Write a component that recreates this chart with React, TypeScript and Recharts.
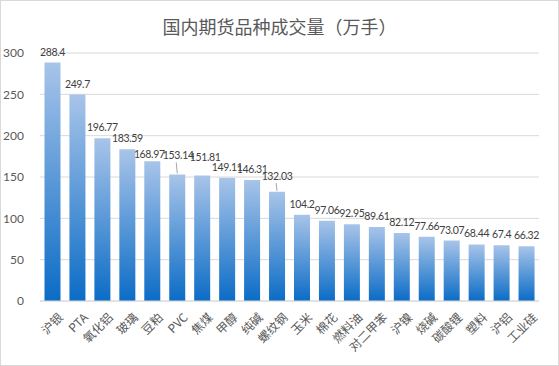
import { BarChart, Bar, XAxis, YAxis, CartesianGrid, LabelList } from 'recharts'

const categories = ['沪银', 'PTA', '氧化铝', '玻璃', '豆粕', 'PVC', '焦煤', '甲醇', '纯碱', '螺纹钢', '玉米', '棉花', '燃料油', '对二甲苯', '沪镍', '烧碱', '碳酸锂', '塑料', '沪铝', '工业硅']
const volumes = [288.4, 249.7, 196.77, 183.59, 168.97, 153.14, 151.81, 149.11, 146.31, 132.03, 104.2, 97.06, 92.95, 89.61, 82.12, 77.66, 73.07, 68.44, 67.4, 66.32]
const yTicks = [0, 50, 100, 150, 200, 250, 300]

const FONT = '"Noto Sans CJK SC", "Noto Sans", sans-serif'
const NUM_FONT = 'Lato, "Noto Sans", sans-serif'

// small nudges Excel made to avoid label collisions (dx, extra lift, leader line)
const nudges: Record<number, { dx: number; lift: number; leader?: boolean }> = {
  4: { dx: -3, lift: -4 },
  5: { dx: 1, lift: 8, leader: true },
  6: { dx: 3, lift: 8 },
  9: { dx: 0, lift: 5, leader: true },
}

const data = categories.map((name, i) => ({ name, value: volumes[i] }))

const XTick = (props: any) => {
  const { x, y, payload } = props
  return (
    <g transform={`translate(${x + 5},${y + 3})`}>
      <text transform="rotate(-45)" textAnchor="end" dy={9} fontSize={12} fill="#595959" fontFamily={FONT}>
        {payload.value}
      </text>
    </g>
  )
}

const ValueLabel = (props: any) => {
  const { x, y, width, value, index } = props
  const n = nudges[index] || { dx: 0, lift: 0 }
  const cx = x + width / 2
  const base = y - 7 - n.lift
  return (
    <g>
      {n.leader && <line x1={cx} y1={y - 1} x2={cx - 1} y2={base + 3} stroke="#a6a6a6" strokeWidth={1} />}
      <text
        x={cx + n.dx}
        y={base}
        textAnchor="middle"
        fontSize={10.5}
        letterSpacing={-0.35}
        fill="#404040"
        fontFamily={NUM_FONT}
      >
        {value}
      </text>
    </g>
  )
}

export default function App() {
  return (
    <div
      style={{
        position: 'absolute',
        left: 0,
        top: 0,
        width: 559,
        height: 366,
        boxSizing: 'border-box',
        border: '1px solid #d9d9d9',
        background: '#fff',
        fontFamily: FONT,
      }}
    >
      <div style={{ position: 'absolute', top: 12, width: '100%', textAlign: 'center', fontSize: 18, color: '#595959' }}>
        国内期货品种成交量（万手）
      </div>
      <BarChart
        width={557}
        height={364}
        data={data}
        margin={{ top: 52, right: 19, bottom: 0, left: 0 }}
        barCategoryGap="18%"
        style={{ position: 'absolute', left: 0, top: 0 }}
      >
        <defs>
          <linearGradient id="barGrad" x1="0" y1="0" x2="0" y2="1">
            <stop offset="0%" stopColor="#a8c4e9" />
            <stop offset="100%" stopColor="#0b6cc6" />
          </linearGradient>
        </defs>
        <CartesianGrid vertical={false} stroke="#d9d9d9" />
        <XAxis
          dataKey="name"
          interval={0}
          height={64}
          tick={<XTick />}
          tickLine={false}
          axisLine={{ stroke: '#d9d9d9' }}
        />
        <YAxis
          width={39}
          domain={[0, 300]}
          ticks={yTicks}
          tickLine={false}
          axisLine={false}
          tick={{ fontSize: 12, fill: '#595959', fontFamily: NUM_FONT }}
          tickMargin={10}
        />
        <Bar dataKey="value" fill="url(#barGrad)" isAnimationActive={false}>
          <LabelList dataKey="value" content={<ValueLabel />} />
        </Bar>
      </BarChart>
    </div>
  )
}
